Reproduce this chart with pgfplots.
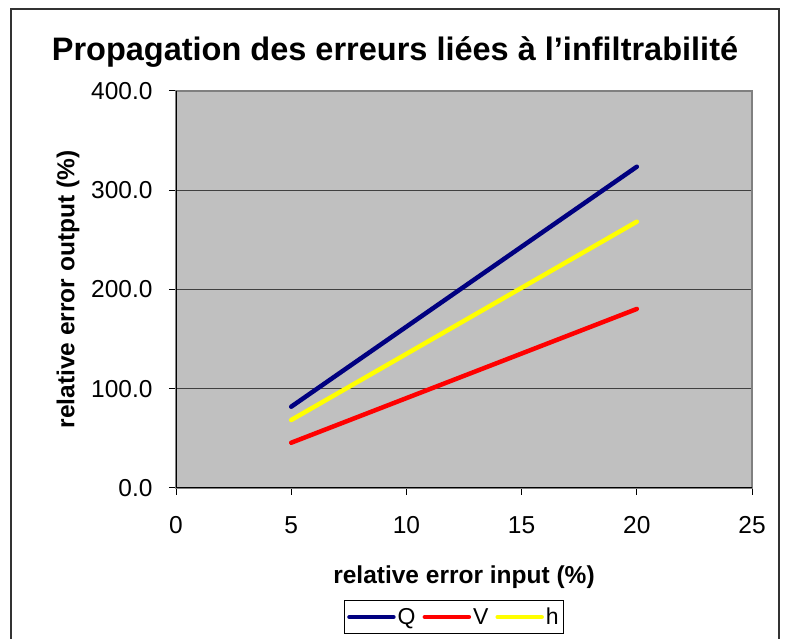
\documentclass[border=0pt]{standalone}
\usepackage{pgfplots}
\pgfplotsset{compat=1.18}
\usepackage{fontspec}
\setmainfont{Liberation Sans}
\definecolor{plotgray}{HTML}{C0C0C0}
\definecolor{navyQ}{HTML}{000080}
\definecolor{redV}{HTML}{FF0000}
\definecolor{yelH}{HTML}{FFFF00}
\begin{document}
\begin{tikzpicture}[x=1pt,y=1pt]
\useasboundingbox (0,0) rectangle (787,639);
\draw[line width=1.5pt, black!80] (11,-5) -- (11,630) -- (779,630) -- (779,-5);
\node[font=\fontsize{32.5}{36}\selectfont\bfseries] at (395,587) {Propagation des erreurs liées à l’infiltrabilité};
\begin{axis}[
  at={(176pt,151pt)}, anchor=south west,
  scale only axis, width=576pt, height=397pt,
  xmin=0, xmax=25, ymin=0, ymax=400,
  xtick={0,5,10,15,20,25}, ytick={0,100,200,300,400},
  axis background/.style={fill=plotgray},
  axis line style={draw=black!50, line width=1.2pt},
  ymajorgrids, grid style={black!75, line width=0.9pt},
  tick align=outside, major tick length=7pt,
  xtick pos=bottom, ytick pos=left,
  tick style={black, line width=1pt},
  /pgf/number format/assume math mode=true,
  yticklabel={\pgfmathprintnumber[fixed, fixed zerofill, precision=1]{\tick}},
  ticklabel style={font=\fontsize{24.5}{28}\selectfont},
  xticklabel style={yshift=-18pt},
  yticklabel style={xshift=-13pt},
  xlabel={\textbf{relative error input (\%)}},
  ylabel={\textbf{relative error output (\%)}},
  label style={font=\fontsize{24.5}{28}\selectfont},
  xlabel style={at={(axis description cs:0.5,-0.224)}, anchor=center},
  ylabel style={at={(axis description cs:-0.1875,0.5)}, anchor=center},
  legend style={at={(0.4826,-0.325)}, anchor=center, legend columns=3,
    draw=black, line width=1pt, fill=white, font=\fontsize{23}{26}\selectfont,
    /tikz/every even column/.append style={column sep=5pt},
    inner xsep=3pt, inner ysep=5pt},
  legend image code/.code={\draw[#1, line width=4.5pt, line cap=round] (0pt,0pt) -- (44pt,0pt);},
]
\draw[black, line width=1.2pt] (axis cs:0,400) -- (axis cs:0,0) -- (axis cs:25,0);
\addplot[navyQ, line width=4.5pt, line cap=round] coordinates {(5,81.9) (20,323.7)};
\addlegendentry{Q}
\addplot[redV, line width=4.5pt, line cap=round] coordinates {(5,45.6) (20,180.4)};
\addlegendentry{V}
\addplot[yelH, line width=4.5pt, line cap=round] coordinates {(5,68.5) (20,268.3)};
\addlegendentry{h}
\end{axis}
\end{tikzpicture}
\end{document}
